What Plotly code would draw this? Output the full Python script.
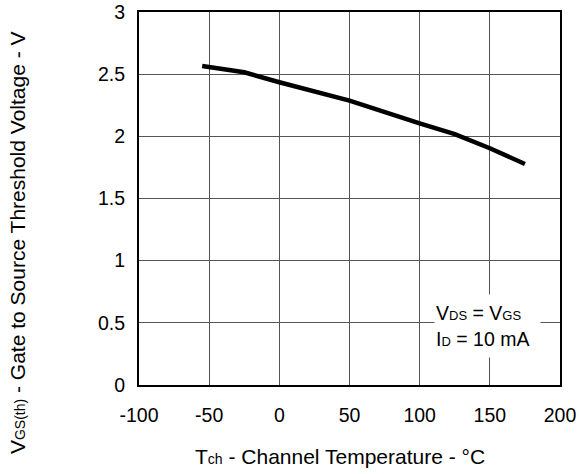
import plotly.graph_objects as go

temp_c = [-55, -25, 0, 50, 100, 125, 150, 175]
vgs_th = [2.565, 2.515, 2.435, 2.287, 2.105, 2.017, 1.904, 1.778]

x_ticks = [-100, -50, 0, 50, 100, 150, 200]
x_tick_labels = ["-100", "-50", "0", "50", "100", "150", "200"]
y_ticks = [0, 0.5, 1, 1.5, 2, 2.5, 3]
y_tick_labels = ["0", "0.5", "1", "1.5", "2", "2.5", "3"]

FONT = "Liberation Sans, Arial, sans-serif"
FS_TICK = 19.5
FS_TITLE = 21
FS_ANN = 19.5


def small(s, px):
    return '<span style="font-size:%dpx">%s</span>' % (px, s)


fig = go.Figure()
fig.add_trace(go.Scatter(x=temp_c, y=vgs_th, mode="lines",
                         line=dict(color="black", width=4.5),
                         showlegend=False, hoverinfo="skip"))

fig.update_layout(
    template="none",
    width=579, height=474,
    margin=dict(l=139, r=19, t=12, b=89),
    paper_bgcolor="white", plot_bgcolor="white",
    font=dict(family=FONT, size=FS_TICK, color="black"),
    xaxis=dict(range=[-100, 200], tickvals=x_ticks, ticktext=x_tick_labels, ticks="",
               showgrid=True, automargin=False, ticklabeloverflow="allow",
               gridcolor="#555555", gridwidth=1, zeroline=False,
               showline=True, linecolor="black", linewidth=2, mirror=True,
               tickfont=dict(size=FS_TICK), ticklabelstandoff=12),
    yaxis=dict(range=[0, 3], tickvals=y_ticks, ticktext=y_tick_labels, ticks="",
               showgrid=True, automargin=False, ticklabeloverflow="allow",
               gridcolor="#555555", gridwidth=1, zeroline=False,
               showline=True, linecolor="black", linewidth=2, mirror=True,
               tickfont=dict(size=FS_TICK), ticklabelstandoff=8),
)

# axis titles
fig.add_annotation(xref="paper", yref="paper", x=0.477, y=-0.193,
                   xanchor="center", yanchor="middle",
                   text="T" + small("ch", 14) + " - Channel Temperature - °C",
                   showarrow=False, font=dict(family=FONT, size=FS_TITLE, color="black"))
fig.add_annotation(xref="paper", yref="paper", x=-0.29, y=0.383, textangle=-90,
                   xanchor="center", yanchor="middle",
                   text="V" + small("GS(th)", 14) + " - Gate to Source Threshold Voltage - V",
                   showarrow=False, font=dict(family=FONT, size=FS_TITLE, color="black"))

# condition box
fig.add_annotation(xref="x", yref="y", x=148.2, y=0.472,
                   xanchor="center", yanchor="middle",
                   text="V" + small("DS", 13) + " = V" + small("GS", 13) + "<br>I"
                        + small("D", 13) + " = 10 mA",
                   showarrow=False, bgcolor="white", align="left",
                   width=103, height=60, borderpad=1,
                   font=dict(family=FONT, size=FS_ANN, color="black"))

fig.write_html("out.html", config={"displayModeBar": False},
               post_script="document.body.style.margin='0';")
